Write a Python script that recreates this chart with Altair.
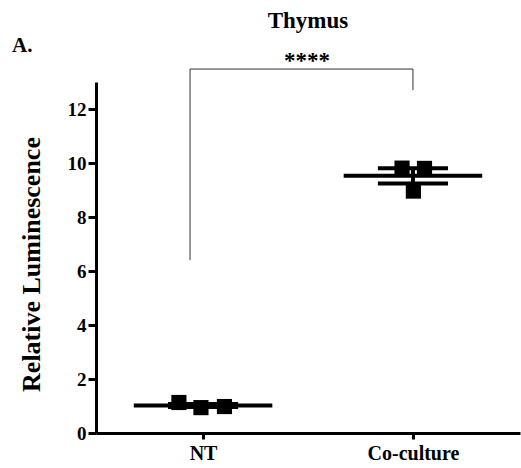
import altair as alt
import numpy as np
import pandas as pd

# Relative luminescence per replicate, thymus
groups = ["NT", "Co-culture"]
nt_values = [1.13, 0.94, 0.98]
coculture_values = [9.81, 9.80, 8.96]
y_ticks = [0, 2, 4, 6, 8, 10, 12]

# horizontal spread of the replicate squares within each group
nt_spread = [-0.115, -0.01, 0.102]
coculture_spread = [-0.052, 0.055, 0.002]

# significance bracket between the groups
bracket_x = [-0.062, -0.062, 1.0, 1.0]
bracket_y = [6.4, 13.48, 13.48, 12.7]
significance = "****"

SERIF = "Liberation Serif"

rows = []
for gi, (vals, spread) in enumerate([(nt_values, nt_spread), (coculture_values, coculture_spread)]):
    for v, s in zip(vals, spread):
        rows.append({"group": groups[gi], "pos": gi + s, "value": v})
points = pd.DataFrame(rows)

all_vals = [nt_values, coculture_values]
summary = pd.DataFrame({
    "group": groups,
    "idx": [0, 1],
    "mean": [float(np.mean(v)) for v in all_vals],
    "sem": [float(np.std(v, ddof=1) / np.sqrt(len(v))) for v in all_vals],
})
summary["lo"] = summary["mean"] - summary["sem"]
summary["hi"] = summary["mean"] + summary["sem"]

bracket = pd.DataFrame({"bx": bracket_x, "by": bracket_y, "k": list(range(len(bracket_x)))})

x_scale = alt.Scale(domain=[-0.51, 1.51], nice=False, zero=False)
y_scale = alt.Scale(domain=[0, 13], nice=False)

x_axis = alt.Axis(
    values=[0, 1],
    labelExpr="datum.value == 0 ? 'NT' : 'Co-culture'",
    title=None, grid=False, tickSize=6, labelPadding=4,
    labelFontSize=20, labelFont=SERIF, labelFontWeight="bold",
)
y_axis = alt.Axis(
    values=y_ticks, title="Relative Luminescence", grid=False, tickSize=8,
    labelFontSize=19, labelFont=SERIF, labelFontWeight="bold", labelPadding=2,
    titleFont=SERIF, titleFontSize=26, titleFontWeight="bold", titleColor="black",
    titleAngle=-90, titleX=-52, titleY=182, titleAlign="center", titleBaseline="bottom",
)

base_sum = alt.Chart(summary)

mean_line = base_sum.transform_calculate(
    x1="datum.idx - 0.33", x2="datum.idx + 0.33"
).mark_rule(color="black", strokeWidth=4).encode(
    x=alt.X("x1:Q", scale=x_scale, axis=x_axis),
    x2="x2:Q",
    y=alt.Y("mean:Q", scale=y_scale, axis=y_axis),
)

err_stem = base_sum.mark_rule(color="black", strokeWidth=4).encode(
    x="idx:Q", y="lo:Q", y2="hi:Q"
)

caps = base_sum.transform_fold(["lo", "hi"], as_=["end", "yv"]).transform_calculate(
    x1="datum.idx - 0.167", x2="datum.idx + 0.167"
).mark_rule(color="black", strokeWidth=4).encode(
    x="x1:Q", x2="x2:Q", y="yv:Q"
)

squares = alt.Chart(points).mark_point(
    shape="square", filled=True, size=230, color="black", opacity=1
).encode(x="pos:Q", y="value:Q")

bracket_line = alt.Chart(bracket).mark_line(color="#333333", strokeWidth=1).encode(
    x="bx:Q", y="by:Q", order="k:Q"
)

stars = alt.Chart(pd.DataFrame({"t": [significance]})).mark_text(
    font=SERIF, fontSize=23, fontWeight="bold", baseline="alphabetic", align="center", dy=-1
).encode(x=alt.datum(0.495), y=alt.datum(13.48), text="t:N")

title_txt = alt.Chart(pd.DataFrame({"t": ["Thymus"]})).mark_text(
    font=SERIF, fontSize=23, fontWeight="bold", baseline="alphabetic", align="center"
).encode(x=alt.value(212), y=alt.value(-54), text="t:N")

panel_txt = alt.Chart(pd.DataFrame({"t": ["A."]})).mark_text(
    font=SERIF, fontSize=21, fontWeight="bold", baseline="alphabetic", align="left"
).encode(x=alt.value(-84), y=alt.value(-30), text="t:N")

chart = alt.layer(
    bracket_line, mean_line, err_stem, caps, squares, stars, title_txt, panel_txt
).properties(
    width=424, height=351,
    autosize=alt.AutoSizeParams(type="none"),
    padding={"left": 96, "top": 82, "right": 1, "bottom": 35},
    background="white",
).configure_view(stroke=None).configure_axis(
    domainColor="black", domainWidth=3, tickColor="black", tickWidth=3,
    labelColor="black", labelFontWeight="bold",
)

chart.save("out.html", embed_options={"renderer": "svg", "actions": False})
